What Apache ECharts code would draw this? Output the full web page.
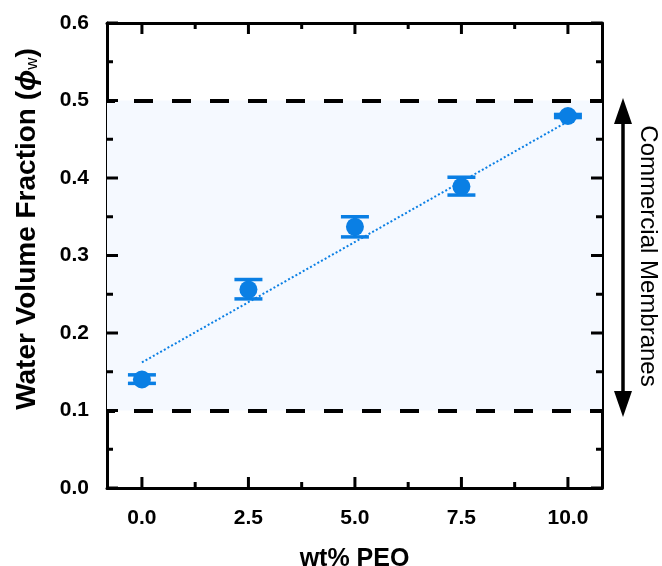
<!DOCTYPE html>
<html><head><meta charset="utf-8">
<script src="https://cdn.jsdelivr.net/npm/echarts@6/dist/echarts.min.js"></script>
<style>html,body{margin:0;padding:0;background:#fff}#c{width:662px;height:566px}</style>
</head><body><div id="c"></div>
<script>
// ---- data ----
const peo = [0, 2.5, 5, 7.5, 10];
const phiW = [0.140, 0.256, 0.337, 0.389, 0.480];
const errLow = [0.135, 0.244, 0.324, 0.378, 0.478];
const errHigh = [0.146, 0.269, 0.350, 0.401, 0.482];
const fitX = [0, 10];
const fitY = [0.162, 0.473];
const xTicks = [0, 2.5, 5, 7.5, 10];
const xMinorTicks = [1.25, 3.75, 6.25, 8.75];
const yTicks = [0, 0.1, 0.2, 0.3, 0.4, 0.5, 0.6];
const yMinorTicks = [0.05, 0.15, 0.25, 0.35, 0.45, 0.55];
const bandRange = [0.1, 0.5];
const annotation = 'Commercial Membranes';

const BLUE = '#0a7fe4';
const FONT = 'Liberation Sans';
const MAJOR = 11, MINOR = 6;

const chart = echarts.init(document.getElementById('c'), null, {renderer: 'canvas'});

const xRange = {min: -0.82, max: 10.8};
const BLACK = {color: '#000', width: 3};

// inward ticks on all four sides of the frame, drawn through the axes' own scales
function tickSeries(dim, major, minor) {
  const data = major.map(v => [v, MAJOR]).concat(minor.map(v => [v, MINOR]));
  return {
    type: 'custom', xAxisIndex: 0, yAxisIndex: 0, z: 10, silent: true,
    encode: dim === 'x' ? {x: 0} : {y: 0},
    data: data,
    renderItem: function (params, api) {
      const cs = params.coordSys;
      const len = api.value(1);
      const st = {stroke: '#000', lineWidth: 3};
      if (dim === 'x') {
        const px = api.coord([api.value(0), 0])[0];
        return {type: 'group', children: [
          {type: 'line', shape: {x1: px, y1: cs.y + cs.height, x2: px, y2: cs.y + cs.height - len}, style: st},
          {type: 'line', shape: {x1: px, y1: cs.y, x2: px, y2: cs.y + len}, style: st}
        ]};
      }
      const py = api.coord([0, api.value(0)])[1];
      return {type: 'group', children: [
        {type: 'line', shape: {x1: cs.x, y1: py, x2: cs.x + len, y2: py}, style: st},
        {type: 'line', shape: {x1: cs.x + cs.width, y1: py, x2: cs.x + cs.width - len, y2: py}, style: st}
      ]};
    }
  };
}

const option = {
  animation: false,
  backgroundColor: '#fff',
  grid: {left: 107, right: 60, top: 23, bottom: 78, containLabel: false, outerBoundsMode: 'none'},
  xAxis: [
    {
      type: 'value', position: 'bottom', min: xRange.min, max: xRange.max,
      axisLine: {show: true, onZero: false, lineStyle: BLACK},
      axisTick: {show: false, customValues: xTicks},
      axisLabel: {show: true, customValues: xTicks, margin: 20, color: '#000',
        fontFamily: FONT, fontWeight: 'bold', fontSize: 21, formatter: v => v.toFixed(1)},
      splitLine: {show: false},
      name: 'wt% PEO', nameLocation: 'middle', nameGap: 59,
      nameTextStyle: {color: '#000', fontFamily: FONT, fontWeight: 'bold', fontSize: 25}
    },
    {
      type: 'value', position: 'top', min: xRange.min, max: xRange.max,
      axisLine: {show: true, onZero: false, lineStyle: BLACK},
      axisTick: {show: false}, axisLabel: {show: false}, splitLine: {show: false}
    }
  ],
  yAxis: [
    {
      type: 'value', position: 'left', min: 0, max: 0.6, interval: 0.1,
      axisLine: {show: true, onZero: false, lineStyle: BLACK},
      axisTick: {show: false},
      axisLabel: {show: true, margin: 18, color: '#000', fontFamily: FONT, fontWeight: 'bold',
        fontSize: 21, formatter: v => v.toFixed(1)},
      splitLine: {show: false}
    },
    {
      type: 'value', position: 'right', min: 0, max: 0.6, interval: 0.1,
      axisLine: {show: true, onZero: false, lineStyle: BLACK},
      axisTick: {show: false}, axisLabel: {show: false}, splitLine: {show: false}
    }
  ],
  series: [
    {
      type: 'line', xAxisIndex: 0, yAxisIndex: 0, z: 3,
      data: fitX.map((x, i) => [x, fitY[i]]),
      showSymbol: false, symbol: 'none',
      lineStyle: {color: BLUE, width: 2, type: [2, 2.2]},
      markArea: {
        silent: true,
        itemStyle: {color: '#f5f9ff'},
        data: [[{yAxis: bandRange[0]}, {yAxis: bandRange[1]}]]
      },
      markLine: {
        silent: true, symbol: 'none', label: {show: false},
        lineStyle: {color: '#000', width: 4, type: [19, 19], dashOffset: 11},
        data: bandRange.map(v => ({yAxis: v}))
      }
    },
    {
      type: 'custom', xAxisIndex: 0, yAxisIndex: 0, z: 4,
      data: peo.map((x, i) => [x, errLow[i], errHigh[i]]),
      renderItem: function (params, api) {
        const lo = api.coord([api.value(0), api.value(1)]);
        const hi = api.coord([api.value(0), api.value(2)]);
        const hw = 14;
        const st = {stroke: BLUE, lineWidth: 3.5, fill: null};
        return {
          type: 'group',
          children: [
            {type: 'line', shape: {x1: lo[0], y1: lo[1], x2: hi[0], y2: hi[1]}, style: st},
            {type: 'line', shape: {x1: lo[0] - hw, y1: lo[1], x2: lo[0] + hw, y2: lo[1]}, style: st},
            {type: 'line', shape: {x1: hi[0] - hw, y1: hi[1], x2: hi[0] + hw, y2: hi[1]}, style: st}
          ]
        };
      }
    },
    {
      type: 'scatter', xAxisIndex: 0, yAxisIndex: 0, z: 5,
      data: peo.map((x, i) => [x, phiW[i]]),
      symbol: 'circle', symbolSize: 18,
      itemStyle: {color: BLUE, opacity: 1}
    },
    tickSeries('x', xTicks, xMinorTicks),
    tickSeries('y', yTicks, yMinorTicks)
  ],
  graphic: [
    {type: 'text', x: 27, y: 229, rotation: Math.PI / 2,
      style: {
        text: '{b|Water Volume Fraction (}{phi|ϕ}{sub|w}{b|)}',
        align: 'center', verticalAlign: 'middle',
        rich: {
          b: {fontFamily: FONT, fontWeight: 'bold', fontSize: 28, fill: '#000'},
          phi: {fontFamily: FONT, fontWeight: 'bold', fontStyle: 'italic', fontSize: 28, fill: '#000'},
          sub: {fontFamily: FONT, fontSize: 17, fill: '#000', verticalAlign: 'bottom', padding: [10, 0, 0, 0]}
        }
      }},
    {type: 'line', shape: {x1: 623, y1: 118, x2: 623, y2: 397}, style: {stroke: '#000', lineWidth: 3.5}},
    {type: 'polygon', shape: {points: [[623, 98], [614, 124], [632, 124]]}, style: {fill: '#000'}},
    {type: 'polygon', shape: {points: [[623, 417], [614, 391], [632, 391]]}, style: {fill: '#000'}},
    {type: 'text', x: 648, y: 256, rotation: -Math.PI / 2,
      style: {text: annotation, fill: '#000', font: '24px "Liberation Sans"', align: 'center', verticalAlign: 'middle'}}
  ]
};
chart.setOption(option);
</script>
</body></html>
